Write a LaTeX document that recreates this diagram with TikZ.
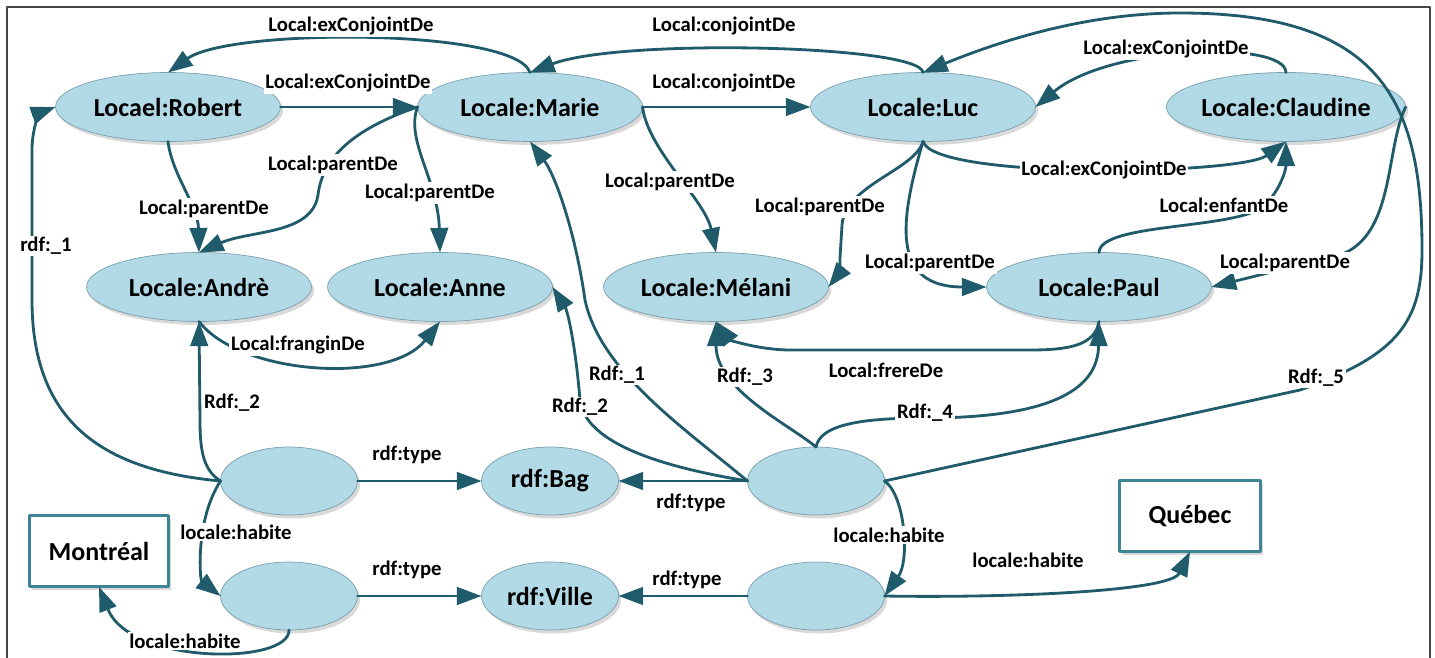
\documentclass[tikz,border=0pt]{standalone}
\usepackage{fontspec}
\setmainfont{Carlito}
\usetikzlibrary{arrows.meta,shapes.geometric,shadows}

\definecolor{lienbleu}{RGB}{31,91,106}
\definecolor{noeudbleu}{RGB}{178,218,230}
\definecolor{bordbleu}{RGB}{120,160,172}
\definecolor{cadrebleu}{RGB}{60,132,150}
\definecolor{cadregris}{RGB}{70,70,70}

\begin{document}
\begin{tikzpicture}[line cap=round,line join=round,>={Triangle[length=14pt,width=10pt]},x=0.02cm,y=-0.02cm,
    res/.style={ellipse,draw=bordbleu,line width=0.4pt,fill=noeudbleu,minimum width=4.5cm,minimum height=1.38cm,
      inner sep=0pt,outer sep=0pt,font=\bfseries\fontsize{14.8}{17}\selectfont,
      drop shadow={shadow xshift=1.5pt,shadow yshift=-2pt,opacity=0.3}},
    vide/.style={res,minimum width=2.74cm,minimum height=1.36cm},
    lieu/.style={rectangle,draw=cadrebleu,line width=1.7pt,fill=white,minimum width=2.78cm,minimum height=1.43cm,
      outer sep=0pt,font=\bfseries\fontsize{14.8}{17}\selectfont,
      drop shadow={shadow xshift=1.5pt,shadow yshift=-2pt,opacity=0.3}},
    lien/.style={->,draw=lienbleu,line width=1.6pt},
    etiq/.style={fill=white,inner sep=1pt,font=\bfseries\fontsize{11.8}{13}\selectfont}]
    \useasboundingbox (0,0) rectangle (1435,658);
    \draw [cadregris,line width=1.1pt] (7,670) -- (7,7) -- (1430,7) -- (1430,670);

    % ressources
    \node [res] (robert) at (168,107) {Locael:Robert};
    \node [res] (marie) at (530,107) {Locale:Marie};
    \node [res] (luc) at (923,107) {Locale:Luc};
    \node [res] (claudine) at (1286,107) {Locale:Claudine};
    \node [res] (andre) at (199,287) {Locale:Andrè};
    \node [res] (anne) at (440,287) {Locale:Anne};
    \node [res] (melani) at (716,287) {Locale:Mélani};
    \node [res] (paul) at (1099,287) {Locale:Paul};
    % noeuds vides et classes
    \node [vide] (bnA) at (289,481) {};
    \node [vide] (bag) at (550,481) {rdf:Bag};
    \node [vide] (bnB) at (816,481) {};
    \node [vide] (bnC) at (289,596) {};
    \node [vide] (ville) at (550,596) {rdf:Ville};
    \node [vide] (bnD) at (816,596) {};
    \node [lieu] (montreal) at (99,551) {Montréal};
    \node [lieu,minimum width=2.82cm] (quebec) at (1190,516) {Québec};

    % liens familiaux
    \draw [lien] (robert.east) -- (marie.west);
    \draw [lien] (marie.north) .. controls (515,28) and (230,28) .. (robert.north);
    \draw [lien] (marie.east) -- (luc.west);
    \draw [lien] (luc.north) .. controls (920,45) and (620,38) .. (marie.north);
    \draw [lien] (marie.east) .. controls (648,150) and (705,200) .. (melani.north);
    \draw [lien] (robert.south) .. controls (172,175) and (198,205) .. (andre.north);
    \draw [lien] (marie.west) .. controls (350,130) and (322,160) .. (318,195) .. controls (312,235) and (250,230) .. (andre.north);
    \draw [lien] (marie.west) .. controls (405,140) and (438,180) .. (anne.north);
    \draw [lien] (andre.south) .. controls (240,375) and (390,385) .. (anne.south);
    \draw [lien] (luc.south) .. controls (935,180) and (1240,175) .. (claudine.south);
    \draw [lien] (claudine.north) .. controls (1285,40) and (1110,45) .. (luc.east);
    \draw [lien] (luc.south) .. controls (915,170) and (845,185) .. (842,225) .. controls (840,260) and (838,275) .. (melani.east);
    \draw [lien] (luc.south) .. controls (900,220) and (890,287) .. (paul.west);
    \draw [lien] (paul.north) .. controls (1100,222) and (1240,230) .. (1265,205) .. controls (1280,190) and (1286,170) .. (claudine.south);
    \draw [lien] (claudine.east) .. controls (1385,150) and (1395,235) .. (1340,255) -- (paul.east);
    \draw [lien] (paul.south) .. controls (1095,345) and (1070,350) .. (1030,350) -- (790,350) .. controls (760,350) and (730,340) .. (melani.south);

    % sacs, types et lieux
    \draw [lien] (bnA.west) .. controls (100,470) and (32,420) .. (32,300) -- (32,150) .. controls (32,125) and (42,112) .. (robert.west);
    \draw [lien] (bnA.west) .. controls (203,470) and (200,450) .. (200,420) -- (andre.south);
    \draw [lien] (bnA.west) .. controls (195,520) and (200,580) .. (bnC.west);
    \draw [lien] (bnA.east) -- (bag.west);
    \draw [lien] (bnC.east) -- (ville.west);
    \draw [lien] (bnC.south) .. controls (290,665) and (130,665) .. (montreal.south);
    \draw [lien] (bnB.west) -- (bag.east);
    \draw [lien] (bnD.west) -- (ville.east);
    \draw [lien] (bnB.west) .. controls (680,425) and (600,370) .. (585,300) .. controls (575,230) and (555,175) .. (marie.south);
    \draw [lien] (bnB.west) .. controls (650,465) and (585,440) .. (580,400) .. controls (575,340) and (567,310) .. (anne.east);
    \draw [lien] (bnB.north) .. controls (790,425) and (716,390) .. (melani.south);
    \draw [lien] (bnB.north) .. controls (820,425) and (860,418) .. (925,418) .. controls (1070,418) and (1098,380) .. (paul.south);
    \draw [lien] (bnB.east) -- (1300,390) .. controls (1400,355) and (1422,320) .. (1422,250) .. controls (1422,100) and (1380,13) .. (1180,13) .. controls (1080,13) and (990,45) .. (luc.north);
    \draw [lien] (bnB.east) .. controls (905,495) and (910,560) .. (bnD.east);
    \draw [lien] (bnD.east) .. controls (1000,598) and (1170,592) .. (quebec.south);

    % etiquettes
    \node [etiq] (lExRMa) at (351,26) {Local:exConjointDe};
    \node [etiq] (lExRMb) at (348,83) {Local:exConjointDe};
    \node [etiq] (lConja) at (724,26) {Local:conjointDe};
    \node [etiq] (lConjb) at (724,83) {Local:conjointDe};
    \node [etiq] (lParRA) at (204,209) {Local:parentDe};
    \node [etiq] (lParMA) at (333,165) {Local:parentDe};
    \node [etiq] (lParMN) at (430,193) {Local:parentDe};
    \node [etiq] (lParMM) at (670,182) {Local:parentDe};
    \node [etiq] (lParLM) at (820,207) {Local:parentDe};
    \node [etiq] (lParLP) at (930,263) {Local:parentDe};
    \node [etiq] (lParCP) at (1285,263) {Local:parentDe};
    \node [etiq] (lExLC) at (1104,170) {Local:exConjointDe};
    \node [etiq] (lExCL) at (1166,49) {Local:exConjointDe};
    \node [etiq] (lEnf) at (1224,205) {Local:enfantDe};
    \node [etiq] (lFrang) at (298,345) {Local:franginDe};
    \node [etiq] (lFrere) at (886,370) {Local:frereDe};
    \node [etiq] (lRa) at (46,246) {rdf:\_1};
    \node [etiq] (lRb) at (232,403) {Rdf:\_2};
    \node [etiq] (lHabA) at (236,532) {locale:habite};
    \node [etiq] (lTypeA) at (407,455) {rdf:type};
    \node [etiq] (lTypeB) at (407,570) {rdf:type};
    \node [etiq] (lHabB) at (185,641) {locale:habite};
    \node [etiq] (lTypeC) at (691,503) {rdf:type};
    \node [etiq] (lTypeD) at (687,580) {rdf:type};
    \node [etiq] (lRdA) at (617,375) {Rdf:\_1};
    \node [etiq] (lRdB) at (580,407) {Rdf:\_2};
    \node [etiq] (lRdC) at (745,377) {Rdf:\_3};
    \node [etiq] (lRdD) at (925,413) {Rdf:\_4};
    \node [etiq] (lRdE) at (1316,378) {Rdf:\_5};
    \node [etiq] (lHabC) at (889,535) {locale:habite};
    \node [etiq] (lHabD) at (1028,560) {locale:habite};
\end{tikzpicture}
\end{document}
